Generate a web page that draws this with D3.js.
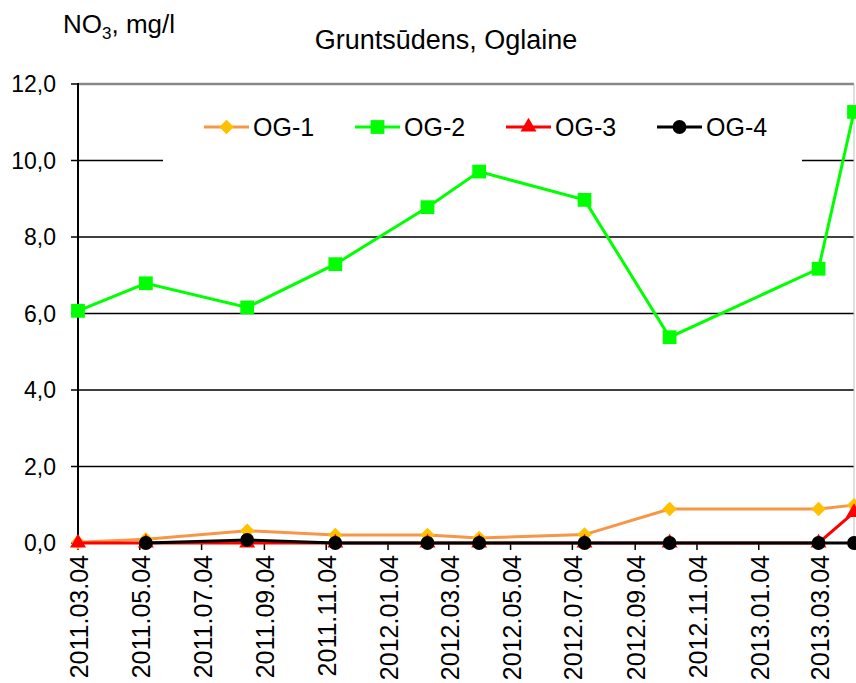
<!DOCTYPE html>
<html>
<head>
<meta charset="utf-8">
<script src="https://cdn.jsdelivr.net/npm/d3@7"></script>
<style>
  body { margin: 0; background: #fff; }
  svg { display: block; font-family: Arial, "Liberation Sans", sans-serif; }
</style>
</head>
<body>
<svg id="chart"></svg>
<script>
// sampling dates and NO3 values (mg/l)
const dates = ["2011-03-04", "2011-05-10", "2011-08-18", "2011-11-13", "2012-02-12",
               "2012-04-03", "2012-07-16", "2012-10-08", "2013-03-04", "2013-04-08"];
const og1 = [0.02, 0.1, 0.32, 0.21, 0.21, 0.13, 0.22, 0.89, 0.89, 0.99];
const og2 = [6.07, 6.79, 6.16, 7.29, 8.78, 9.71, 8.97, 5.38, 7.17, 11.27];
const og3 = [0, 0, 0, 0, 0, 0, 0, 0, 0, 0.8];
const og4 = [null, 0, 0.08, 0, 0, 0, 0, 0, 0, 0];
const tickLabels = ["2011.03.04", "2011.05.04", "2011.07.04", "2011.09.04", "2011.11.04",
                    "2012.01.04", "2012.03.04", "2012.05.04", "2012.07.04", "2012.09.04",
                    "2012.11.04", "2013.01.04", "2013.03.04"];
const yTicks = [0, 2, 4, 6, 8, 10, 12];

const width = 856, height = 683;
const plotLeft = 78, plotRight = 854, plotTop = 84, plotBottom = 543;

const parse = d3.timeParse("%Y-%m-%d");
const parseTick = d3.timeParse("%Y.%m.%d");

const svg = d3.select("#chart").attr("width", width).attr("height", height);

const x = d3.scaleTime()
    .domain([parse("2011-03-04"), parse("2013-04-08")])
    .range([plotLeft, plotRight]);
const y = d3.scaleLinear().domain([0, 12]).range([plotBottom, plotTop]);

// diamond = square turned 45 degrees (Excel style)
const series = [
    { name: "OG-1", values: og1, line: "#f79646", fill: "#ffc000", shape: d3.symbolSquare, size: 105, rot: 45 },
    { name: "OG-2", values: og2, line: "#00ff00", fill: "#00ff00", shape: d3.symbolSquare, size: 190, rot: 0 },
    { name: "OG-3", values: og3, line: "#ff0000", fill: "#ff0000", shape: d3.symbolTriangle, size: 110, rot: 0 },
    { name: "OG-4", values: og4, line: "#000000", fill: "#000000", shape: d3.symbolCircle, size: 150, rot: 0 }
];

// gridlines
svg.append("g")
    .selectAll("line")
    .data(yTicks.filter(d => d > 0 && d < 12))
    .join("line")
    .attr("x1", plotLeft).attr("x2", plotRight)
    .attr("y1", d => y(d)).attr("y2", d => y(d))
    .attr("stroke", "#000").attr("stroke-width", 1.5);

// plot border top/right
svg.append("line").attr("x1", plotLeft).attr("x2", plotRight).attr("y1", plotTop).attr("y2", plotTop)
    .attr("stroke", "#888").attr("stroke-width", 2.5);
svg.append("line").attr("x1", plotRight).attr("x2", plotRight).attr("y1", plotTop).attr("y2", plotBottom)
    .attr("stroke", "#c0c0c0").attr("stroke-width", 1);

// legend box hides part of the 10,0 gridline
svg.append("rect")
    .attr("x", 163).attr("y", 96).attr("width", 639).attr("height", 70)
    .attr("fill", "#fff");

// y axis
const yAxis = svg.append("g");
yAxis.append("line").attr("x1", plotLeft).attr("x2", plotLeft).attr("y1", plotTop - 1).attr("y2", plotBottom)
    .attr("stroke", "#000").attr("stroke-width", 2);
yAxis.selectAll("line.tick")
    .data(yTicks)
    .join("line")
    .attr("class", "tick")
    .attr("x1", plotLeft - 7).attr("x2", plotLeft)
    .attr("y1", d => y(d)).attr("y2", d => y(d))
    .attr("stroke", "#000").attr("stroke-width", 1.5);
yAxis.selectAll("text")
    .data(yTicks)
    .join("text")
    .attr("x", 56)
    .attr("y", d => y(d))
    .attr("dy", "0.36em")
    .attr("text-anchor", "end")
    .attr("font-size", 23)
    .text(d => d3.format(".1f")(d).replace(".", ","));

// x axis
const xAxis = svg.append("g");
xAxis.append("line").attr("x1", plotLeft).attr("x2", plotRight).attr("y1", plotBottom).attr("y2", plotBottom)
    .attr("stroke", "#000").attr("stroke-width", 2);
xAxis.selectAll("line.tick")
    .data(tickLabels)
    .join("line")
    .attr("class", "tick")
    .attr("x1", d => x(parseTick(d))).attr("x2", d => x(parseTick(d)))
    .attr("y1", plotBottom).attr("y2", plotBottom + 7)
    .attr("stroke", "#000").attr("stroke-width", 1.5);
xAxis.selectAll("text")
    .data(tickLabels)
    .join("text")
    .attr("transform", d => `translate(${x(parseTick(d)) + 1},555) rotate(-90)`)
    .attr("dy", "0.36em")
    .attr("text-anchor", "end")
    .attr("font-size", 25)
    .text(d => d);

// lines and markers
const line = d3.line()
    .defined(d => d.v !== null)
    .x(d => x(d.date))
    .y(d => y(d.v));

series.forEach(s => {
    const pts = dates.map((d, i) => ({ date: parse(d), v: s.values[i] }));
    const g = svg.append("g");
    g.append("path")
        .datum(pts)
        .attr("fill", "none")
        .attr("stroke", s.line)
        .attr("stroke-width", 3)
        .attr("d", line);
    g.selectAll("path.mark")
        .data(pts.filter(p => p.v !== null))
        .join("path")
        .attr("class", "mark")
        .attr("transform", p => `translate(${x(p.date)},${y(p.v)}) rotate(${s.rot})`)
        .attr("d", d3.symbol().type(s.shape).size(s.size))
        .attr("fill", s.fill);
});

// legend
const legend = svg.append("g");
series.forEach((s, i) => {
    const lx = 204 + i * 151;
    const ly = 127;
    legend.append("line")
        .attr("x1", lx).attr("x2", lx + 45)
        .attr("y1", ly).attr("y2", ly)
        .attr("stroke", s.line).attr("stroke-width", 3);
    legend.append("path")
        .attr("transform", `translate(${lx + 22.5},${ly}) rotate(${s.rot})`)
        .attr("d", d3.symbol().type(s.shape).size(s.size))
        .attr("fill", s.fill);
    legend.append("text")
        .attr("x", lx + 49)
        .attr("y", ly)
        .attr("dy", "0.36em")
        .attr("font-size", 25)
        .text(s.name);
});

// titles
svg.append("text")
    .attr("x", 446).attr("y", 49)
    .attr("text-anchor", "middle")
    .attr("font-size", 27)
    .text("Gruntsūdens, Oglaine");

const unit = svg.append("text")
    .attr("x", 63).attr("y", 33)
    .attr("font-size", 26);
unit.append("tspan").text("NO");
unit.append("tspan").attr("font-size", 17).attr("dy", 6).text("3");
unit.append("tspan").attr("dy", -6).text(", mg/l");
</script>
</body>
</html>
